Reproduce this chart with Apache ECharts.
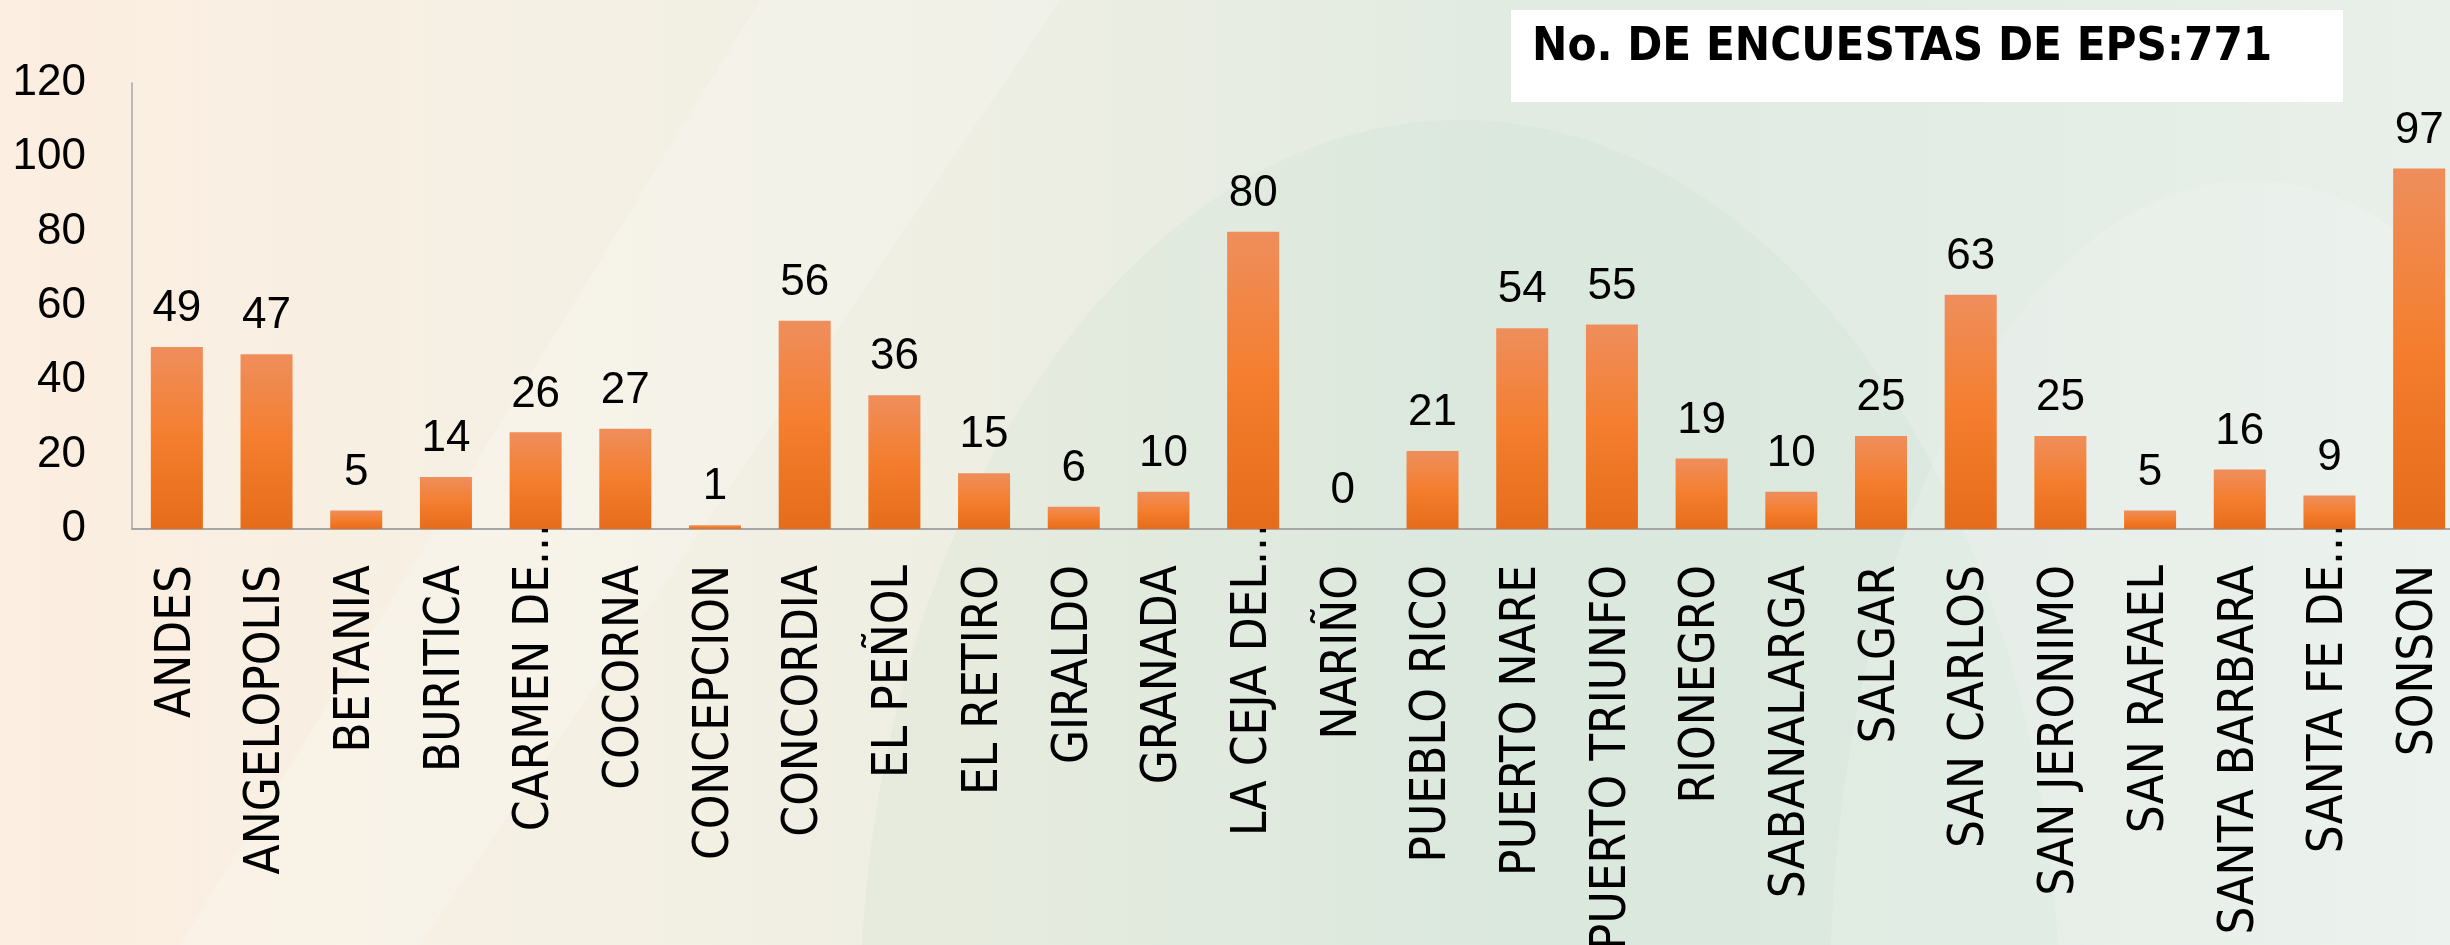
<!DOCTYPE html>
<html>
<head>
<meta charset="utf-8">
<script src="https://cdn.jsdelivr.net/npm/echarts@6/dist/echarts.min.js"></script>
<style>
html,body{margin:0;padding:0;width:2450px;height:945px;overflow:hidden;}
#c{width:2450px;height:945px;}
</style>
</head>
<body>
<div id="c"></div>
<script>
const categories = ["ANDES","ANGELOPOLIS","BETANIA","BURITICA","CARMEN DE","COCORNA","CONCEPCION","CONCORDIA","EL PEÑOL","EL RETIRO","GIRALDO","GRANADA","LA CEJA DEL","NARIÑO","PUEBLO RICO","PUERTO NARE","PUERTO TRIUNFO","RIONEGRO","SABANALARGA","SALGAR","SAN CARLOS","SAN JERONIMO","SAN RAFAEL","SANTA BARBARA","SANTA FE DE","SONSON"];
const truncated = ["CARMEN DE","LA CEJA DEL","SANTA FE DE"];
const values = [49,47,5,14,26,27,1,56,36,15,6,10,80,0,21,54,55,19,10,25,63,25,5,16,9,97];
const yTicks = [0,20,40,60,80,100,120];
const titleText = "No. DE ENCUESTAS DE EPS:771";

const chart = echarts.init(document.getElementById('c'));
const numFont = '"Liberation Sans Narrow","Liberation Sans",sans-serif';
const catFont = '"DejaVu Sans Condensed","DejaVu Sans",sans-serif';
chart.setOption({
  animation:false,
  backgroundColor:{
    type:'linear',x:0,y:0,x2:1,y2:0,
    colorStops:[
      {offset:0,color:'#FCEEE0'},
      {offset:0.22,color:'#F5F0E4'},
      {offset:0.42,color:'#EDEEE3'},
      {offset:0.62,color:'#E1EBE2'},
      {offset:0.82,color:'#E3ECE5'},
      {offset:1,color:'#E9F0EA'}
    ]
  },
  graphic:[
    {type:'polygon',silent:true,z:-10,shape:{points:[[760,0],[1060,0],[420,945],[180,945]]},style:{fill:'rgba(255,255,255,0.2)'}},
    {type:'ellipse',silent:true,z:-10,shape:{cx:1460,cy:1020,rx:600,ry:900},style:{fill:'rgba(190,220,200,0.17)'}},
    {type:'ellipse',silent:true,z:-10,shape:{cx:2250,cy:1000,rx:420,ry:820},style:{fill:'rgba(255,255,255,0.15)'}},
    {type:'rect',left:1511,top:10,shape:{width:832,height:92},style:{fill:'#FFFFFF'}},
    {type:'text',left:1532,top:24,style:{text:titleText,fill:'#000',font:'bold 47px "DejaVu Sans Condensed","DejaVu Sans",sans-serif'}}
  ],
  grid:{left:132,top:83,bottom:416,right:-14,containLabel:false,outerBoundsMode:'none'},
  xAxis:{
    type:'category',
    data:categories,
    axisTick:{show:false},
    axisLine:{show:true,lineStyle:{color:'#A6A6A6',width:2}},
    axisLabel:{
      rotate:90,
      margin:-6,
      interval:0,
      fontFamily:catFont,
      fontSize:49,
      color:'#000',
      overflow:'none',
      formatter:function(v){
        const t = truncated.indexOf(v)>=0;
        return '{n|'+v+'}{'+(t?'d':'g')+'|...}';
      },
      rich:{
        n:{fontFamily:catFont,fontSize:49,color:'#000'},
        d:{fontFamily:catFont,fontSize:49,color:'#000'},
        g:{fontFamily:catFont,fontSize:49,color:'rgba(0,0,0,0)'}
      }
    }
  },
  yAxis:{
    type:'value',min:0,max:120,interval:20,
    axisLine:{show:true,lineStyle:{color:'#A6A6A6',width:1.5}},
    axisTick:{show:false},
    splitLine:{show:false},
    axisLabel:{margin:46,fontFamily:numFont,fontSize:44,color:'#000',
      formatter:function(v){return yTicks.indexOf(v)>=0?String(v):'';}}
  },
  series:[{
    type:'bar',
    data:values,
    barCategoryGap:'42%',
    itemStyle:{color:{type:'linear',x:0,y:0,x2:0,y2:1,colorStops:[
      {offset:0,color:'#EF8E5C'},{offset:0.5,color:'#F47E2E'},{offset:1,color:'#E56C1A'}]}},
    label:{show:true,position:'top',distance:16,fontFamily:numFont,fontSize:44,color:'#000'}
  }]
});
</script>
</body>
</html>
